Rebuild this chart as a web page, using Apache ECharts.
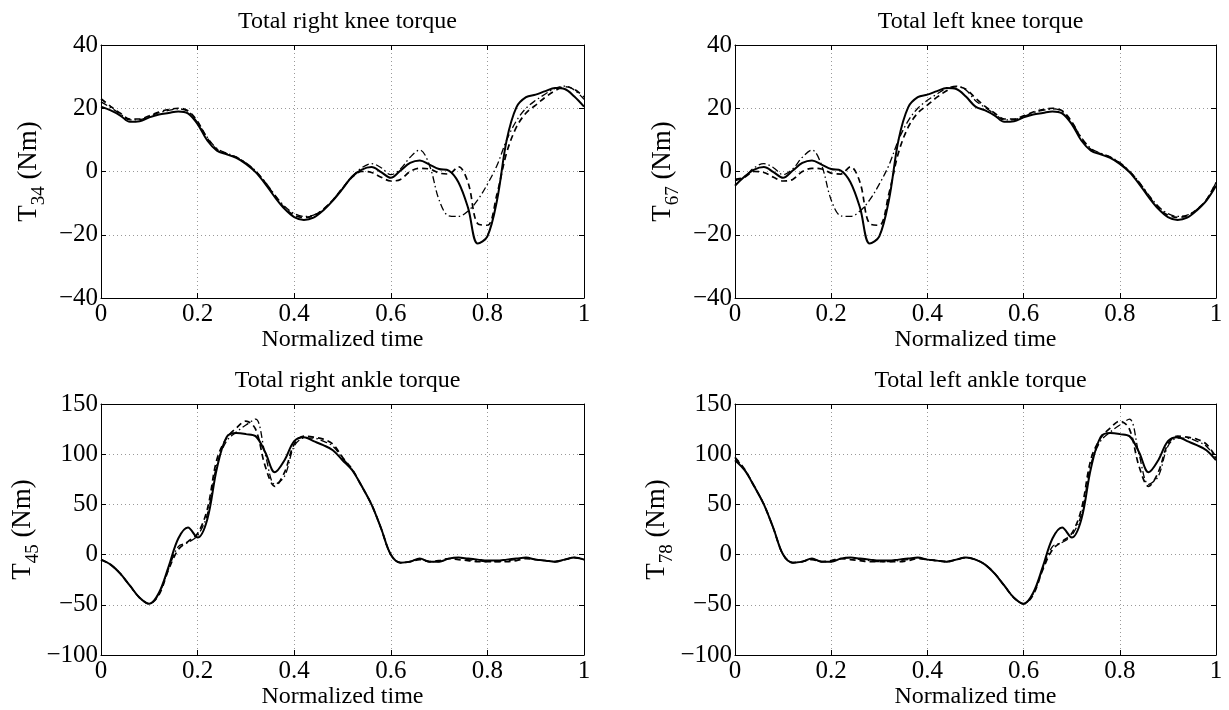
<!DOCTYPE html>
<html>
<head>
<meta charset="utf-8">
<title>Total knee and ankle torques</title>
<script src="https://cdn.jsdelivr.net/npm/echarts@6/dist/echarts.min.js"></script>
<style>
  html, body { margin: 0; padding: 0; background: #fff; }
  #chart { width: 1229px; height: 710px; }
</style>
</head>
<body>
<div id="chart"></div>
<script>
// normalized time samples, shared by the four panels
const time = [0, 0.02, 0.04, 0.06, 0.08, 0.1, 0.12, 0.14, 0.16, 0.18,
  0.2, 0.22, 0.24, 0.26, 0.28, 0.3, 0.32, 0.34, 0.36, 0.38,
  0.4, 0.42, 0.44, 0.46, 0.48, 0.5, 0.52, 0.54, 0.56, 0.58,
  0.6, 0.62, 0.64, 0.66, 0.68, 0.7, 0.72, 0.74, 0.76, 0.78,
  0.8, 0.82, 0.84, 0.86, 0.88, 0.9, 0.92, 0.94, 0.96, 0.98, 1];

const timeTicks = [0, 0.2, 0.4, 0.6, 0.8, 1];
const kneeTicks = [-40, -20, 0, 20, 40];
const ankleTicks = [-100, -50, 0, 50, 100, 150];

const titles = ['Total right knee torque', 'Total left knee torque', 'Total right ankle torque', 'Total left ankle torque'];
const subscripts = ['34', '67', '45', '78'];

// right knee (T34)
const rKneeSolid = [20.5, 19.3, 17.7, 15.7, 15.9, 17.1, 18.0, 18.5, 19.0, 18.4, 15.0, 9.8, 6.6, 5.4, 4.3, 2.4, -0.2, -3.9, -8.1, -11.8, -14.4, -15.3, -14.6, -12.3, -9.2, -5.5, -1.6, 0.6, 1.4, -0.2, -2.0, 0.3, 2.7, 3.5, 2.2, 0.8, 0.3, -3.4, -11.5, -22.8, -20.5, -9.0, 10.0, 20.3, 23.5, 24.3, 25.4, 26.4, 26.1, 23.7, 20.5];
const rKneeDash = [23.0, 20.6, 18.4, 16.6, 16.6, 17.6, 18.8, 19.6, 20.0, 19.2, 15.8, 10.5, 7.0, 5.6, 4.5, 2.6, 0.0, -3.5, -7.7, -11.5, -13.8, -14.5, -14.0, -12.0, -9.0, -5.3, -1.8, 0.0, -0.3, -1.8, -3.0, -2.5, 0.0, 1.0, 0.8, -0.5, -0.8, 1.5, -3.5, -16.5, -17.0, -7.0, 6.0, 14.0, 18.5, 21.0, 23.5, 25.5, 26.8, 26.0, 23.5];
const rKneeDashDot = [22.0, 20.2, 18.2, 16.3, 16.4, 17.4, 18.6, 19.3, 19.8, 19.0, 15.5, 10.8, 7.3, 5.8, 4.6, 2.8, 0.2, -3.3, -7.4, -11.0, -13.3, -14.2, -13.8, -12.0, -9.0, -5.3, -1.6, 1.2, 2.5, 1.2, -1.0, 0.8, 4.5, 6.8, 2.0, -9.0, -14.0, -14.2, -12.5, -9.0, -4.0, 2.0, 10.0, 16.0, 20.0, 22.5, 24.5, 26.3, 27.0, 25.8, 22.8];

// left knee (T67)
const lKneeSolid = [-4.5, -1.6, 0.6, 1.4, -0.2, -2.0, 0.3, 2.7, 3.5, 2.2, 0.8, 0.3, -3.4, -11.5, -22.8, -20.5, -9.0, 10.0, 20.3, 23.5, 24.3, 25.4, 26.4, 26.1, 23.7, 20.5, 19.3, 17.7, 15.7, 15.9, 17.1, 18.0, 18.5, 19.0, 18.4, 15.0, 9.8, 6.6, 5.4, 4.3, 2.4, -0.2, -3.9, -8.1, -11.8, -14.4, -15.3, -14.6, -12.3, -9.2, -4.5];
const lKneeDash = [-2.5, -1.8, 0.0, -0.3, -1.8, -3.0, -2.5, 0.0, 1.0, 0.8, -0.5, -0.8, 1.5, -3.5, -16.5, -17.0, -7.0, 6.0, 14.0, 18.5, 21.0, 23.5, 25.5, 26.8, 26.0, 23.2, 20.6, 18.4, 16.6, 16.6, 17.6, 18.8, 19.6, 20.0, 19.2, 15.8, 10.5, 7.0, 5.6, 4.5, 2.6, 0.0, -3.5, -7.7, -11.5, -13.8, -14.5, -14.0, -12.0, -9.0, -3.5];
const lKneeDashDot = [-3.0, -1.6, 1.2, 2.5, 1.2, -1.0, 0.8, 4.5, 6.8, 2.0, -9.0, -14.0, -14.2, -12.5, -9.0, -4.0, 2.0, 10.0, 16.0, 20.0, 22.5, 24.5, 26.3, 27.0, 25.8, 22.4, 20.2, 18.2, 16.3, 16.4, 17.4, 18.6, 19.3, 19.8, 19.0, 15.5, 10.8, 7.3, 5.8, 4.6, 2.8, 0.2, -3.3, -7.4, -11.0, -13.3, -14.2, -13.8, -12.0, -9.0, -3.5];

// right ankle (T45)
const rAnkleSolid = [-5, -10, -19, -31, -43, -49, -38, -12, 16, 27, 17, 35, 86, 117, 121, 120, 118, 102, 82, 94, 113, 117, 113, 109, 104, 94, 84, 68, 50, 26, 0, -8, -7, -4, -7, -7, -4, -3, -4, -5, -6, -6, -5, -4, -3, -5, -6, -7, -5, -3, -5];
const rAnkleDash = [-5, -10, -19, -31, -43, -49, -40, -15, 5, 13, 21, 45, 95, 116, 126, 133, 125, 88, 68, 82, 110, 118, 117, 115, 110, 97, 85, 68, 50, 26, 0, -8, -7, -5, -7, -6, -4, -5, -6, -7, -7, -7, -7, -6, -4, -5, -6, -7, -5, -3, -5];
const rAnkleDashDot = [-5, -10, -19, -31, -43, -49, -39, -14, 8, 12, 19, 40, 90, 113, 122, 129, 135, 100, 70, 78, 108, 116, 116, 113, 108, 96, 85, 68, 50, 26, 0, -8, -7, -4, -7, -7, -4, -3, -5, -6, -7, -7, -6, -5, -3, -5, -6, -7, -5, -3, -5];

// left ankle (T78)
const lAnkleSolid = [94, 84, 68, 50, 26, 0, -8, -7, -4, -7, -7, -4, -3, -4, -5, -6, -6, -5, -4, -3, -5, -6, -7, -5, -3, -5, -10, -19, -31, -43, -49, -38, -12, 16, 27, 17, 35, 86, 117, 121, 120, 118, 102, 82, 94, 113, 117, 113, 109, 104, 94];
const lAnkleDash = [97, 85, 68, 50, 26, 0, -8, -7, -5, -7, -6, -4, -5, -6, -7, -7, -7, -7, -6, -4, -5, -6, -7, -5, -3, -5, -10, -19, -31, -43, -49, -40, -15, 5, 13, 21, 45, 95, 116, 126, 133, 125, 88, 68, 82, 110, 118, 117, 115, 110, 97];
const lAnkleDashDot = [96, 85, 68, 50, 26, 0, -8, -7, -4, -7, -7, -4, -3, -5, -6, -7, -7, -6, -5, -3, -5, -6, -7, -5, -3, -5, -10, -19, -31, -43, -49, -39, -14, 8, 12, 19, 40, 90, 113, 122, 129, 135, 100, 70, 78, 108, 116, 116, 113, 108, 96];

const panels = [
  { ticks: kneeTicks, solid: rKneeSolid, dash: rKneeDash, dashDot: rKneeDashDot },
  { ticks: kneeTicks, solid: lKneeSolid, dash: lKneeDash, dashDot: lKneeDashDot },
  { ticks: ankleTicks, solid: rAnkleSolid, dash: rAnkleDash, dashDot: rAnkleDashDot },
  { ticks: ankleTicks, solid: lAnkleSolid, dash: lAnkleDash, dashDot: lAnkleDashDot }
];

const font = '"Liberation Serif", "DejaVu Serif", serif';
const boxes = [
  { left: 101, top: 45, width: 483, height: 253 },
  { left: 735, top: 45, width: 481, height: 253 },
  { left: 101, top: 404, width: 483, height: 251 },
  { left: 735, top: 404, width: 481, height: 251 }
];

var chart = echarts.init(document.getElementById('chart'));

const pair = ys => time.map((t, i) => [t, ys[i]]);
const minus = v => String(v).replace('-', '\u2212');
const black = { color: '#000', width: 1 };
const tick = { show: true, inside: true, length: 5, lineStyle: { color: '#000', width: 1 } };
const grid = { show: true, lineStyle: { color: '#999', width: 1, type: [1, 3] } };

var title = [], xAxis = [], yAxis = [], series = [];

boxes.forEach((b, i) => {
  title.push({
    text: titles[i],
    left: b.left + b.width / 2,
    top: b.top - 40,
    textAlign: 'center',
    textStyle: { fontFamily: font, fontSize: 24, fontWeight: 'normal', color: '#000' }
  });
});

panels.forEach((p, i) => {
  const yMin = p.ticks[0], yMax = p.ticks[p.ticks.length - 1];
  const xBase = {
    type: 'value', gridIndex: i,
    min: timeTicks[0], max: timeTicks[timeTicks.length - 1],
    interval: timeTicks[1] - timeTicks[0]
  };
  const yBase = {
    type: 'value', gridIndex: i,
    min: yMin, max: yMax, interval: p.ticks[1] - p.ticks[0]
  };

  xAxis.push(Object.assign({}, xBase, {
    position: 'bottom',
    axisLine: { onZero: false, lineStyle: black },
    axisTick: tick,
    axisLabel: { margin: 4, color: '#000', fontFamily: font, fontSize: 25 },
    splitLine: grid,
    name: 'Normalized time',
    nameLocation: 'middle',
    nameGap: 21,
    nameTextStyle: { fontFamily: font, fontSize: 24, color: '#000' }
  }));
  xAxis.push(Object.assign({}, xBase, {
    position: 'top',
    axisLine: { onZero: false, lineStyle: black },
    axisTick: tick,
    axisLabel: { show: false },
    splitLine: { show: false }
  }));

  yAxis.push(Object.assign({}, yBase, {
    position: 'left',
    axisLine: { onZero: false, lineStyle: black },
    axisTick: tick,
    axisLabel: { margin: 3, color: '#000', fontFamily: font, fontSize: 25, formatter: minus },
    splitLine: grid,
    name: '{t|T}{s|' + subscripts[i] + '}{t| (Nm)}',
    nameLocation: 'middle',
    nameRotate: 90,
    nameGap: 52,
    nameTextStyle: {
      rich: {
        t: { fontFamily: font, fontSize: 27, color: '#000', lineHeight: 40 },
        s: { fontFamily: font, fontSize: 19, color: '#000', lineHeight: 19, verticalAlign: 'bottom' }
      }
    }
  }));
  yAxis.push(Object.assign({}, yBase, {
    position: 'right',
    axisLine: { onZero: false, lineStyle: black },
    axisTick: tick,
    axisLabel: { show: false },
    splitLine: { show: false }
  }));

  const styles = [
    { data: p.dashDot, width: 1.3, type: [7, 3, 1.5, 3] },
    { data: p.dash, width: 1.7, type: [6, 4] },
    { data: p.solid, width: 2, type: 'solid' }
  ];
  styles.forEach(s => {
    series.push({
      type: 'line',
      xAxisIndex: i * 2,
      yAxisIndex: i * 2,
      data: pair(s.data),
      symbol: 'none',
      smooth: 0.35,
      lineStyle: { color: '#000', width: s.width, type: s.type }
    });
  });
});

var option = {
  animation: false,
  backgroundColor: '#fff',
  title: title,
  grid: boxes.map(b => Object.assign({ containLabel: false }, b)),
  xAxis: xAxis,
  yAxis: yAxis,
  series: series
};

chart.setOption(option);
window.addEventListener('resize', chart.resize);
</script>
</body>
</html>
